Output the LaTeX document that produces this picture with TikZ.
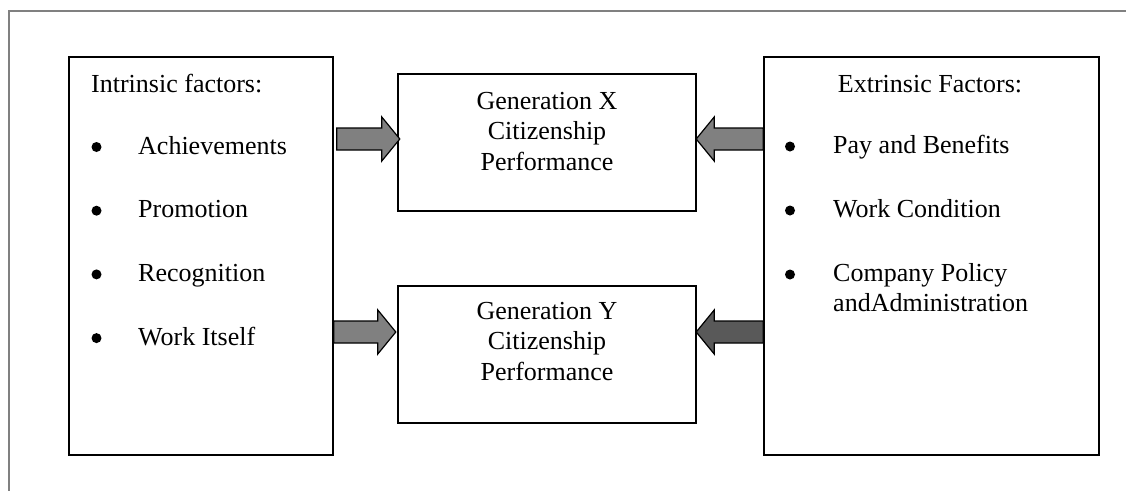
\documentclass[tikz,border=0pt]{standalone}
\usepackage{fontspec}
\setmainfont{Liberation Serif}
\usetikzlibrary{calc}
\definecolor{framegrey}{RGB}{128,128,128}
\definecolor{arrgrey}{RGB}{128,128,128}
\definecolor{arrdark}{RGB}{89,89,89}
\tikzset{
  box/.style={draw, line width=1.6pt, inner sep=0pt},
  txt/.style={inner sep=0pt, anchor=base west, font=\fontsize{26}{30.5}\selectfont},
  ctxt/.style={txt, anchor=north, align=center},
  dot/.style={circle, fill, inner sep=0pt, minimum size=10pt},
  blk/.pic={\draw[pic actions, line width=1.2pt] (0,-11) -- (#1-18,-11) -- (#1-18,-22) -- (#1,0) -- (#1-18,22) -- (#1-18,11) -- (0,11) -- cycle;}
}

\begin{document}
\begin{tikzpicture}[x=1pt,y=-1pt]
\useasboundingbox (0,0) rectangle (1126,491);
\draw [framegrey, line width=1.5pt] (1126,11) -- (9,11) -- (9,491);
\node[box, minimum width=264pt, minimum height=398pt] (intr) at (201,256) {};
\node[box, minimum width=335pt, minimum height=398pt] (extr) at (931.5,256) {};
\node[box, minimum width=298pt, minimum height=137pt] (genx) at (547,142.5) {};
\node[box, minimum width=298pt, minimum height=137pt] (geny) at (547,354.5) {};
\node[ctxt] (genxtxt) at (547,92) {Generation X\\Citizenship\\Performance};
\node[ctxt] (genytxt) at (547,302) {Generation Y\\Citizenship\\Performance};
\node[txt] (intrhead) at (91,92) {Intrinsic factors:};
\foreach \lbl [count=\i] in {Achievements, Promotion, Recognition, Work Itself} {
  \node[dot] (ib\i) at (96.5,{147+63.7*(\i-1)}) {};
  \node[txt] (it\i) at (138,{154+63.7*(\i-1)}) {\lbl};
}
\node[txt, anchor=base] (extrhead) at (930,92) {Extrinsic Factors:};
\foreach \lbl [count=\i] in {Pay and Benefits, Work Condition, Company Policy} {
  \node[dot] (eb\i) at (790,{146.5+64*(\i-1)}) {};
  \node[txt] (et\i) at (833,{153+64*(\i-1)}) {\lbl};
}
\node[txt] (et4) at (833,311) {andAdministration};
\pic[fill=arrgrey] at ($(intr.east |- genx.west)+(3,-3.5)$) {blk=63};
\pic[fill=arrgrey, rotate=180] at ($(extr.west |- genx.east)+(0,-3.5)$) {blk=67};
\pic[fill=arrgrey] at ($(intr.east |- geny.west)+(0,-22.5)$) {blk=62};
\pic[fill=arrdark, rotate=180] at ($(extr.west |- geny.east)+(0,-22.5)$) {blk=67};
\end{tikzpicture}
\end{document}
